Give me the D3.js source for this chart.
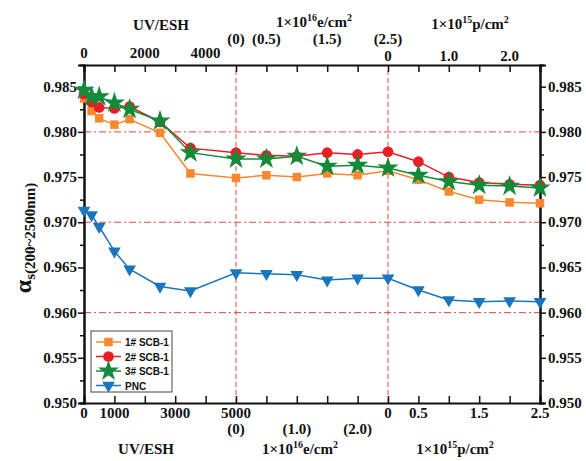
<!DOCTYPE html>
<html>
<head>
<meta charset="utf-8">
<script src="https://cdn.jsdelivr.net/npm/d3@7"></script>
<style>
  body { margin: 0; background: #fff; }
  svg text { font-family: "Liberation Serif", "Times New Roman", serif; font-weight: bold; fill: #111; }
  .legend text { font-family: "Liberation Sans", Arial, sans-serif; font-size: 10px; }
</style>
</head>
<body>
<svg id="chart" width="586" height="461"></svg>
<script>
// x sections: UV dose (ESH), electron fluence (1e16 e/cm2), proton fluence (1e15 p/cm2)
var uvDose = [0, 250, 500, 1000, 1500, 2500, 3500, 5000],
electronFluence = [0.5, 1.0, 1.5, 2.0, 2.5],
protonFluence = [0.5, 1.0, 1.5, 2.0, 2.5]

var seriesNames = ["1# SCB-1", "2# SCB-1", "3# SCB-1", "PNC"]
var scb1 = [0.9837, 0.9823, 0.9815, 0.9808, 0.9814, 0.9799, 0.9754, 0.9749, 0.9752, 0.9750, 0.9754, 0.9752, 0.9757, 0.9747, 0.9734, 0.9725, 0.9722, 0.9721]
var scb2 = [0.9842, 0.9833, 0.9827, 0.9826, 0.9828, 0.9811, 0.9782, 0.9777, 0.9774, 0.9773, 0.9777, 0.9775, 0.9778, 0.9767, 0.9750, 0.9744, 0.9742, 0.9741]
var scb3 = [0.9846, 0.9839, 0.9839, 0.9832, 0.9825, 0.9812, 0.9777, 0.9770, 0.9770, 0.9773, 0.9762, 0.9763, 0.9760, 0.9752, 0.9745, 0.9741, 0.9740, 0.9738]
var pnc = [0.9713, 0.9708, 0.9695, 0.9668, 0.9648, 0.9629, 0.9624, 0.9644, 0.9643, 0.9642, 0.9636, 0.9638, 0.9638, 0.9625, 0.9614, 0.9612, 0.9613, 0.9612]

var yTicks = [0.950, 0.955, 0.960, 0.965, 0.970, 0.975, 0.980, 0.985]
var yGrid = [0.960, 0.970, 0.980]
var uvBottomLabels = [0, 1000, 3000, 5000], uvTopLabels = [0, 2000, 4000]
var eBottomLabels = [0, 1.0, 2.0], eTopLabels = [0, 0.5, 1.5, 2.5]
var pBottomLabels = [0, 0.5, 1.5, 2.5], pTopLabels = [0, 1.0, 2.0]

var colors = ["#f7882f", "#ec1c24", "#138a3a", "#1b75bc"]

var margin = {top: 65, bottom: 58, left: 84, right: 46},
width = 586, height = 461

var svg = d3.select("#chart")

// one linear axis for all three sections, 5 tick units each
function uvU(d) { return d / 1000 }
function eU(d) { return 5 + d / 0.5 }
function pU(d) { return 10 + d / 0.5 }

var xScale = d3.scaleLinear()
	.domain([0, 15])
	.range([margin.left, width - margin.right])
var yScale = d3.scaleLinear()
	.domain([0.950, 0.9874])
	.range([height - margin.bottom, margin.top])

var xUnits = uvDose.map(uvU).concat(electronFluence.map(eU)).concat(protonFluence.map(pU))

// grid lines
svg.append("g").selectAll("line")
	.data(yGrid)
	.enter()
	.append("line")
	.attr("x1", xScale(0))
	.attr("x2", xScale(15))
	.attr("y1", function(d) { return yScale(d) })
	.attr("y2", function(d) { return yScale(d) })
	.attr("stroke", "#e8453c")
	.attr("stroke-width", 1)
	.attr("stroke-dasharray", "7,3,2,3")
svg.append("g").selectAll("line")
	.data([5, 10])
	.enter()
	.append("line")
	.attr("x1", function(d) { return xScale(d) })
	.attr("x2", function(d) { return xScale(d) })
	.attr("y1", yScale.range()[0])
	.attr("y2", yScale.range()[1])
	.attr("stroke", "#e8453c")
	.attr("stroke-width", 1)
	.attr("stroke-dasharray", "5,3")

// axes
var xTickVals = d3.range(0, 16)
svg.append("g")
	.attr("transform", "translate(0," + yScale(0.950) + ")")
	.call(d3.axisTop(xScale).tickValues(xTickVals).tickSize(7).tickFormat(""))
svg.append("g")
	.attr("transform", "translate(0," + yScale.range()[1] + ")")
	.call(d3.axisBottom(xScale).tickValues(xTickVals).tickSize(7).tickFormat(""))
svg.append("g")
	.attr("transform", "translate(" + xScale(0) + ",0)")
	.call(d3.axisLeft(yScale).tickValues(yTicks).tickSize(6).tickFormat(""))
svg.append("g")
	.attr("transform", "translate(" + xScale(15) + ",0)")
	.call(d3.axisRight(yScale).tickValues(yTicks).tickSize(6).tickFormat(""))
var minorY = d3.range(0, 7).map(function(i) { return 0.9525 + i * 0.005 })
svg.append("g")
	.attr("transform", "translate(" + xScale(0) + ",0)")
	.call(d3.axisLeft(yScale).tickValues(minorY).tickSize(4).tickFormat(""))
svg.append("g")
	.attr("transform", "translate(" + xScale(15) + ",0)")
	.call(d3.axisRight(yScale).tickValues(minorY).tickSize(4).tickFormat(""))
svg.selectAll(".domain").attr("stroke", "#111").attr("stroke-width", 2)
svg.selectAll(".tick line").attr("stroke", "#111").attr("stroke-width", 1.5)

// y tick labels
svg.append("g").selectAll("text")
	.data(yTicks)
	.enter()
	.append("text")
	.text(function(d) { return d.toFixed(3) })
	.attr("x", xScale(0) - 7)
	.attr("y", function(d) { return yScale(d) + 5 })
	.attr("text-anchor", "end")
	.attr("font-size", "15px")
svg.append("g").selectAll("text")
	.data(yTicks)
	.enter()
	.append("text")
	.text(function(d) { return d.toFixed(3) })
	.attr("x", xScale(15) + 8)
	.attr("y", function(d) { return yScale(d) + 5 })
	.attr("text-anchor", "start")
	.attr("font-size", "15px")

function labelRow(vals, toU, fmt, y) {
	svg.append("g").selectAll("text")
		.data(vals)
		.enter()
		.append("text")
		.text(fmt)
		.attr("x", function(d) { return xScale(toU(d)) })
		.attr("y", y)
		.attr("text-anchor", "middle")
		.attr("font-size", "15px")
}
function paren(d) { return "(" + (d == 0 ? "0" : d.toFixed(1)) + ")" }
function num1(d) { return d == 0 ? "0" : d.toFixed(1) }

// bottom rows
labelRow(uvBottomLabels, uvU, function(d) { return d }, 418)
labelRow(pBottomLabels, pU, num1, 418)
labelRow(eBottomLabels, eU, paren, 434)
// top rows
labelRow(uvTopLabels, uvU, function(d) { return d }, 58)
labelRow(pTopLabels, pU, num1, 61)
labelRow(eTopLabels, eU, paren, 44)

// section titles
function sectionTitle(x, y, base, sup1, unit, sup2) {
	var t = svg.append("text")
		.attr("x", x)
		.attr("y", y)
		.attr("text-anchor", "middle")
		.attr("font-size", "15px")
	t.append("tspan").text(base)
	if (sup1) {
		t.append("tspan").text(sup1).attr("font-size", "10px").attr("dy", -6)
		t.append("tspan").text(unit).attr("dy", 6)
		t.append("tspan").text(sup2).attr("font-size", "10px").attr("dy", -6)
	}
}
sectionTitle(161, 30, "UV/ESH")
sectionTitle(314, 27, "1\u00d710", "16", "e/cm", "2")
sectionTitle(470, 29, "1\u00d710", "15", "p/cm", "2")
sectionTitle(146, 454, "UV/ESH")
sectionTitle(300, 454, "1\u00d710", "16", "e/cm", "2")
sectionTitle(455, 454, "1\u00d710", "15", "p/cm", "2")

// y axis title
var yt = svg.append("text")
	.attr("transform", "translate(31,238) rotate(-90)")
	.attr("text-anchor", "middle")
yt.append("tspan").text("\u03b1").attr("font-size", "24px")
yt.append("tspan").text("s(200~2500nm)").attr("font-size", "15px").attr("dy", 4)

// series
var allSeries = [scb1, scb2, scb3, pnc]
var symbols = [d3.symbolSquare, d3.symbolCircle, d3.symbolStar, d3.symbolTriangle]
var symSizes = [72, 90, 140, 70]
var line = d3.line()
	.x(function(d, i) { return xScale(xUnits[i]) })
	.y(function(d) { return yScale(d) })

function drawMarker(g, k) {
	var p = g.append("path")
		.attr("d", d3.symbol().type(symbols[k]).size(symSizes[k])())
		.attr("fill", colors[k])
	if (k == 3) p.attr("transform", "rotate(180)")
	return p
}

var plots = svg.append("g")
allSeries.forEach(function(vals, k) {
	plots.append("path")
		.datum(vals)
		.attr("d", line)
		.attr("fill", "none")
		.attr("stroke", colors[k])
		.attr("stroke-width", 1.5)
})
allSeries.forEach(function(vals, k) {
	vals.forEach(function(v, i) {
		var g = plots.append("g")
			.attr("transform", "translate(" + xScale(xUnits[i]) + "," + yScale(v) + ")")
		drawMarker(g, k)
	})
})

// legend
var legend = svg.append("g").attr("class", "legend")
legend.append("rect")
	.attr("x", 91).attr("y", 331).attr("width", 81).attr("height", 61)
	.attr("fill", "#fff").attr("stroke", "#444").attr("stroke-width", 1)
seriesNames.forEach(function(name, k) {
	var y = 342 + k * 14.5
	legend.append("line")
		.attr("x1", 96).attr("x2", 121).attr("y1", y).attr("y2", y)
		.attr("stroke", colors[k]).attr("stroke-width", 1.5)
	var g = legend.append("g").attr("transform", "translate(108.5," + y + ")")
	drawMarker(g, k)
	legend.append("text")
		.text(name)
		.attr("x", 125)
		.attr("y", y + 4)
})
</script>
</body>
</html>
